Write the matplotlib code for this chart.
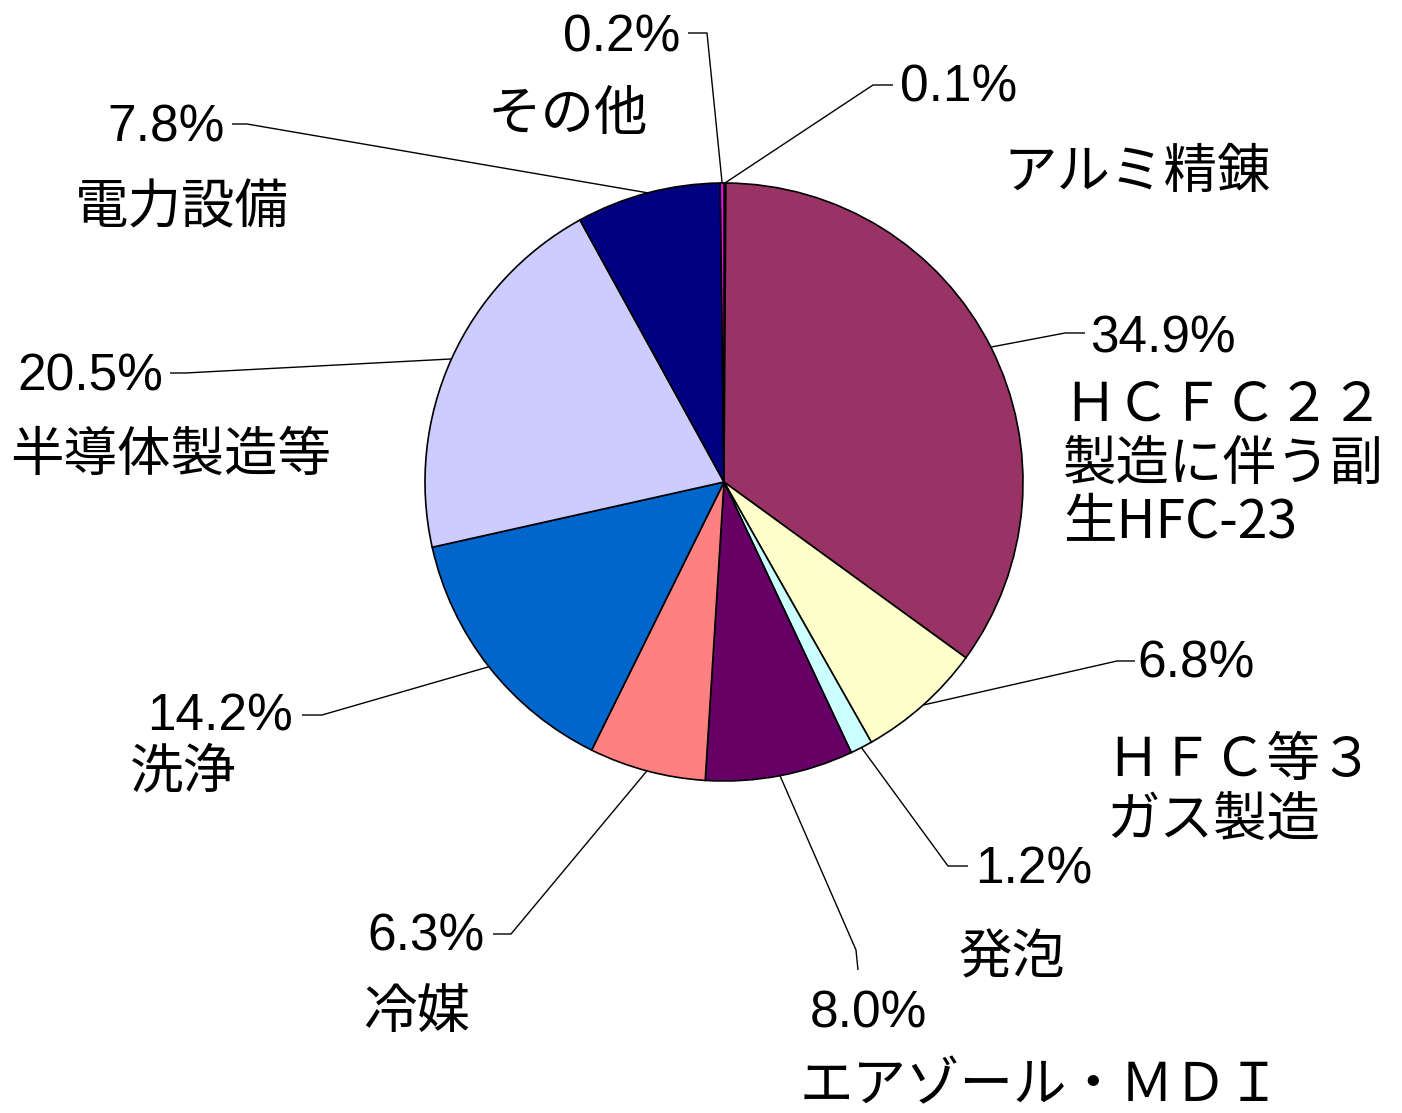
import matplotlib
matplotlib.use("Agg")
import matplotlib.pyplot as plt
import numpy as np

# ---- data ----
categories = ["アルミ精錬", "HCFC22製造に伴う副生HFC-23", "HFC等3ガス製造", "発泡",
              "エアゾール・MDI", "冷媒", "洗浄", "半導体製造等", "電力設備", "その他"]
values = [0.1, 34.9, 6.8, 1.2, 8.0, 6.3, 14.2, 20.5, 7.8, 0.2]
pct_labels = ["0.1%", "34.9%", "6.8%", "1.2%", "8.0%", "6.3%", "14.2%", "20.5%", "7.8%", "0.2%"]
name_lines = [
    ["アルミ精錬"],
    ["ＨＣＦＣ２２", "製造に伴う副", "生HFC-23"],
    ["ＨＦＣ等３", "ガス製造"],
    ["発泡"],
    ["エアゾール・ＭＤＩ"],
    ["冷媒"],
    ["洗浄"],
    ["半導体製造等"],
    ["電力設備"],
    ["その他"],
]
colors = ["#9999FF", "#993366", "#FFFFCC", "#CCFFFF", "#660066",
          "#FF8080", "#0066CC", "#CCCCFF", "#000080", "#FF00FF"]

# ---- layout (pixel coords, y measured from top) ----
W, H = 1402, 1113
CX, CY, R = 724, 482, 299

# percent label: (x, y, ha)
pct_pos = [
    (900, 88, "left"),
    (1090, 339, "left"),
    (1137, 664, "left"),
    (975, 870, "left"),
    (810, 1014, "left"),
    (485, 937, "right"),
    (293, 717, "right"),
    (163, 377, "right"),
    (225, 128, "right"),
    (680, 38, "right"),
]
# leader elbows: list of points after the wedge anchor
leader_pts = [
    [(873, 85), (893, 85)],
    [(1065, 333), (1085, 333)],
    [(1117, 661), (1135, 661)],
    [(948, 866), (968, 866)],
    [(856, 950), (858, 970)],
    [(511, 934), (493, 934)],
    [(322, 715), (302, 715)],
    [(185, 373), (170, 373)],
    [(247, 124), (232, 124)],
    [(707, 33), (688, 33)],
]
# name label: (x_left, first line center y, line step)
name_pos = [
    (1003, 172, 58),
    (1063, 405, 59),
    (1106, 760, 60),
    (958, 958, 58),
    (800, 1086, 58),
    (363, 1012, 58),
    (130, 772, 58),
    (10, 455, 58),
    (75, 208, 58),
    (488, 115, 58),
]

def Y(y):
    return H - y

fig = plt.figure(figsize=(W / 100, H / 100), dpi=100)
ax = fig.add_axes([0, 0, 1, 1])
wedges, _ = ax.pie(values, colors=colors, startangle=90, counterclock=False,
                   center=(CX, Y(CY)), radius=R,
                   wedgeprops=dict(edgecolor="black", linewidth=1.2))
ax.set_xlim(0, W)
ax.set_ylim(0, H)
ax.set_aspect("equal")
ax.axis("off")

cjk = ["Noto Sans CJK JP", "DejaVu Sans"]
num_font = ["Liberation Sans", "DejaVu Sans"]

for i, w in enumerate(wedges):
    mid = np.deg2rad((w.theta1 + w.theta2) / 2)
    ax_x = CX + R * np.cos(mid)
    ax_y = Y(CY) + R * np.sin(mid)
    xs = [ax_x] + [p[0] for p in leader_pts[i]]
    ys = [ax_y] + [Y(p[1]) for p in leader_pts[i]]
    ax.plot(xs, ys, color="black", lw=1.0, solid_capstyle="butt")
    px, py, ha = pct_pos[i]
    ax.text(px, Y(py), pct_labels[i], ha=ha, va="center", fontsize=37,
            family=num_font, color="black")
    nx, ny, step = name_pos[i]
    for j, line in enumerate(name_lines[i]):
        ax.text(nx, Y(ny + j * step), line, ha="left", va="center",
                fontsize=38.5, family=cjk, color="black")

fig.savefig("out.png", dpi=100, facecolor="white")
